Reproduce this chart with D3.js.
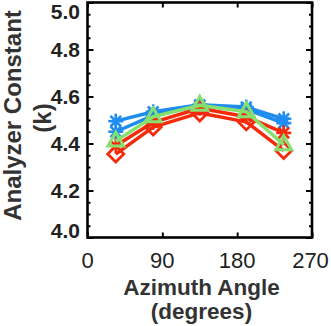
<!DOCTYPE html>
<html>
<head>
<meta charset="utf-8">
<script src="https://cdn.jsdelivr.net/npm/d3@7"></script>
<style>
  html, body { margin: 0; padding: 0; background: #fff; }
  svg { display: block; font-family: "Liberation Sans", Arial, Helvetica, sans-serif; }
</style>
</head>
<body>
<svg id="chart" width="331" height="326"></svg>
<script>
// Azimuth angles of the measurements (degrees)
const angles = [34, 79, 135, 191, 236];

// Analyzer constant k for each run
const blueStar   = [4.495, 4.535, 4.565, 4.555, 4.505];
const blueLower  = [4.450, 4.520, 4.560, 4.545, 4.487];
const redUpper   = [4.390, 4.490, 4.550, 4.514, 4.445];
const redDiamond = [4.355, 4.470, 4.530, 4.492, 4.370];
const greenTri   = [4.410, 4.514, 4.563, 4.535, 4.395];

const yTicks = [4.0, 4.2, 4.4, 4.6, 4.8, 5.0];
const xTicks = [0, 90, 180, 270];

const series = [
  { values: blueLower,  color: "#1f8cf0", marker: "star" },
  { values: blueStar,   color: "#1f8cf0", marker: "star" },
  { values: redUpper,   color: "#f42a0a", marker: "star" },
  { values: redDiamond, color: "#f42a0a", marker: "diamond" },
  { values: greenTri,   color: "#86e070", marker: "triangle" }
];

const svg = d3.select("#chart");
const x = d3.scaleLinear().domain([0, 270]).range([87.5, 312]);
const y = d3.scaleLinear().domain([4.0, 5.0]).range([237.5, 2.5]);

// Data lines and symbols
const line = d3.line().x((d, i) => x(angles[i])).y(d => y(d));
const plot = svg.append("g");

series.forEach(s => {
  plot.append("path")
    .datum(s.values)
    .attr("d", line)
    .attr("fill", "none")
    .attr("stroke", s.color)
    .attr("stroke-width", 3.5)
    .attr("stroke-linejoin", "round");

  const g = plot.append("g");
  s.values.forEach((v, i) => {
    const cx = x(angles[i]), cy = y(v);
    const m = g.append("g").attr("transform", `translate(${cx},${cy})`);
    if (s.marker === "star") {
      const r = 7.5;
      for (let k = 0; k < 4; k++) {
        const a = k * Math.PI / 4;
        m.append("line")
          .attr("x1", -r * Math.cos(a)).attr("y1", -r * Math.sin(a))
          .attr("x2",  r * Math.cos(a)).attr("y2",  r * Math.sin(a))
          .attr("stroke", s.color).attr("stroke-width", 2.6);
      }
    } else if (s.marker === "diamond") {
      const r = 8;
      m.append("path")
        .attr("d", `M0,${-r}L${r},0L0,${r}L${-r},0Z`)
        .attr("fill", "none").attr("stroke", s.color).attr("stroke-width", 2.8);
    } else {
      const r = 9;
      m.append("path")
        .attr("d", `M0,${-r}L${r * 0.87},${r * 0.55}L${-r * 0.87},${r * 0.55}Z`)
        .attr("fill", "none").attr("stroke", s.color).attr("stroke-width", 3);
    }
  });
});

// Axes with inward ticks
const minor = d3.range(4.0, 5.0001, 0.05);
function ticks(axis, offset, values, size) {
  const g = svg.append("g").attr("transform", offset)
    .call(axis.tickValues(values).tickSize(size).tickFormat(""));
  g.select(".domain").remove();
  g.selectAll("line").attr("stroke", "#000").attr("stroke-width", 2);
}
ticks(d3.axisLeft(y),   `translate(${x(0)},0)`,   minor,  -3);
ticks(d3.axisLeft(y),   `translate(${x(0)},0)`,   yTicks, -6);
ticks(d3.axisRight(y),  `translate(${x(270)},0)`, minor,  -3);
ticks(d3.axisRight(y),  `translate(${x(270)},0)`, yTicks, -6);
ticks(d3.axisBottom(x), `translate(0,${y(4.0)})`, xTicks, -5);
ticks(d3.axisTop(x),    `translate(0,${y(5.0)})`, xTicks, -5);

// Plot frame
svg.append("rect")
  .attr("x", x(0)).attr("y", y(5.0))
  .attr("width", x(270) - x(0)).attr("height", y(4.0) - y(5.0))
  .attr("fill", "none").attr("stroke", "#000").attr("stroke-width", 2.6);

// Tick labels
svg.append("g").selectAll("text").data(yTicks).join("text")
  .attr("x", 80)
  .attr("y", d => Math.min(Math.max(y(d), 11), 230))
  .attr("dy", "0.36em")
  .attr("text-anchor", "end")
  .attr("font-size", 21).attr("font-weight", "bold").attr("fill", "#222")
  .text(d => d.toFixed(1));

svg.append("g").selectAll("text").data(xTicks).join("text")
  .attr("x", d => Math.min(x(d), 310.5))
  .attr("y", 268)
  .attr("text-anchor", "middle")
  .attr("font-size", 22).attr("fill", "#222")
  .text(d => d);

// Axis titles
svg.append("text")
  .attr("x", 201.5).attr("y", 295)
  .attr("text-anchor", "middle")
  .attr("font-size", 22.5).attr("font-weight", "bold").attr("fill", "#333")
  .text("Azimuth Angle");
svg.append("text")
  .attr("x", 201.5).attr("y", 319)
  .attr("text-anchor", "middle")
  .attr("font-size", 22.5).attr("font-weight", "bold").attr("fill", "#333")
  .text("(degrees)");

svg.append("text")
  .attr("transform", "translate(21,115.5) rotate(-90)")
  .attr("text-anchor", "middle")
  .attr("font-size", 24).attr("font-weight", "bold").attr("fill", "#333")
  .text("Analyzer Constant");
svg.append("text")
  .attr("transform", "translate(51,118) rotate(-90)")
  .attr("text-anchor", "middle")
  .attr("font-size", 24).attr("font-weight", "bold").attr("fill", "#333")
  .text("(k)");
</script>
</body>
</html>
